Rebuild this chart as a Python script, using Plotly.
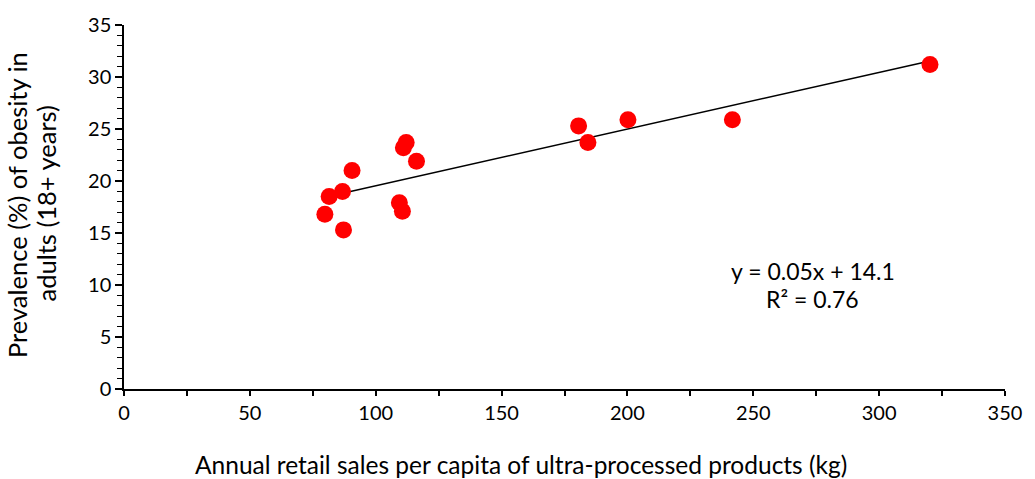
import numpy as np
import plotly.graph_objects as go

# Annual retail sales per capita of ultra-processed products (kg)
sales_kg = [90.6, 86.8, 81.5, 79.8, 87.2, 112.1, 111.0, 116.2, 109.4, 110.6,
            180.6, 184.3, 200.2, 241.7, 320.2]
# Prevalence (%) of obesity in adults
obesity_pct = [21.0, 19.0, 18.5, 16.8, 15.3, 23.7, 23.2, 21.9, 17.9, 17.1,
               25.3, 23.7, 25.9, 25.9, 31.2]

x_ticks = [0, 50, 100, 150, 200, 250, 300, 350]
y_ticks = [0, 5, 10, 15, 20, 25, 30, 35]

# linear trendline like the spreadsheet one
slope, intercept = np.polyfit(sales_kg, obesity_pct, 1)
trend_x = [min(sales_kg), max(sales_kg)]
trend_y = [slope * v + intercept for v in trend_x]

FONT = "Lato"

fig = go.Figure()
fig.add_trace(go.Scatter(x=trend_x, y=trend_y, mode="lines",
                         line=dict(color="black", width=1.5),
                         showlegend=False, hoverinfo="skip"))
fig.add_trace(go.Scatter(x=sales_kg, y=obesity_pct, mode="markers",
                         marker=dict(color="#ff0000", size=17),
                         showlegend=False))

fig.update_xaxes(range=[0, 350], tickvals=x_ticks, showgrid=False, zeroline=False,
                 showline=True, linecolor="black", linewidth=1.5,
                 ticks="outside", ticklen=5, tickcolor="black", tickwidth=1.5,
                 minor=dict(dtick=25, ticks="outside", ticklen=5, tickcolor="black", tickwidth=1.5),
                 tickfont=dict(family=FONT, size=20, color="black"))
fig.update_yaxes(range=[0, 35], tickvals=y_ticks, showgrid=False, zeroline=False,
                 showline=True, linecolor="black", linewidth=1.5,
                 ticks="outside", ticklen=7, tickcolor="black", tickwidth=1.5,
                 minor=dict(dtick=1, ticks="outside", ticklen=5, tickcolor="black", tickwidth=1),
                 tickfont=dict(family=FONT, size=20, color="black"))

def note(text, x, y, size, angle=0):
    fig.add_annotation(text=text, xref="paper", yref="paper", x=x, y=y,
                       xanchor="center", yanchor="middle", textangle=angle,
                       showarrow=False, font=dict(family=FONT, size=size, color="black"))

note("Annual retail sales per capita of ultra-processed products (kg)", 0.451, -0.207, 24.5)
note("Prevalence (%) of obesity in", -0.1212, 0.506, 25.5, -90)
note("adults (18+ years)", -0.0884, 0.510, 25.5, -90)
note("y = 0.05x + 14.1", 0.782, 0.325, 23)
note("R² = 0.76", 0.782, 0.248, 23)

fig.update_layout(width=1035, height=479, plot_bgcolor="white", paper_bgcolor="white",
                  margin=dict(l=123.5, r=29.5, t=22.5, b=90))

# drop the default body margin so the figure fills the window exactly
fig.write_html("out.html", config={"displayModeBar": False},
               post_script="document.body.style.margin='0';")
